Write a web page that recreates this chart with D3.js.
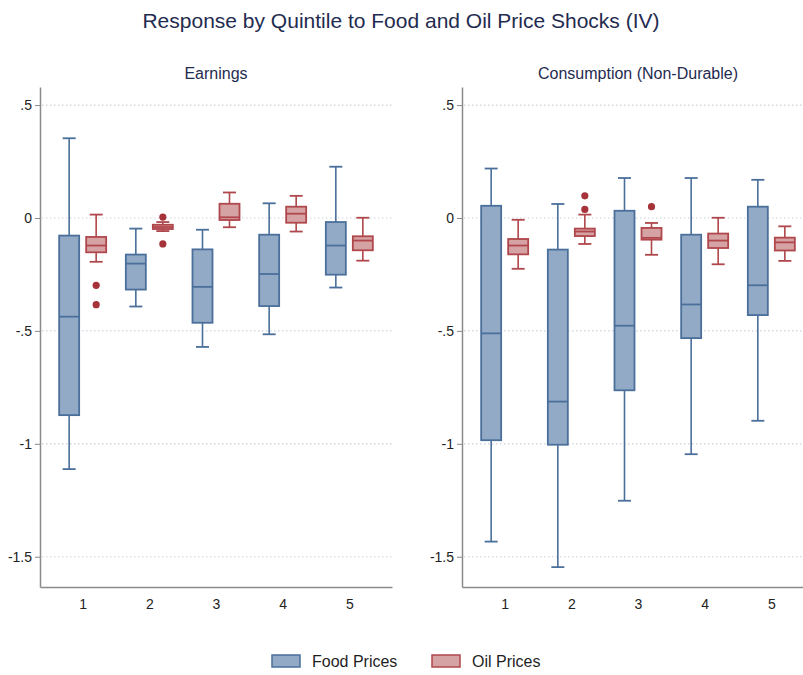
<!DOCTYPE html>
<html>
<head>
<meta charset="utf-8">
<script src="https://cdn.jsdelivr.net/npm/d3@7"></script>
<style>
  body { margin: 0; background: #fff; }
  svg { display: block; font-family: "Liberation Sans", Arial, sans-serif; }
</style>
</head>
<body>
<div id="chart"></div>
<script>
// categories and ticks
var quintiles = ["1", "2", "3", "4", "5"];
var yTicks = [0.5, 0, -0.5, -1, -1.5];
var panelTitles = ["Earnings", "Consumption (Non-Durable)"];
var seriesNames = ["Food Prices", "Oil Prices"];

// box stats per quintile: [lower whisker, q1, median, q3, upper whisker]
var earningsFood = [
  [-1.112, -0.873, -0.437, -0.078, 0.353],
  [-0.392, -0.317, -0.202, -0.162, -0.047],
  [-0.571, -0.464, -0.305, -0.139, -0.052],
  [-0.515, -0.390, -0.248, -0.074, 0.065],
  [-0.308, -0.251, -0.122, -0.018, 0.227]
];
var earningsOil = [
  [-0.194, -0.152, -0.122, -0.084, 0.015],
  [-0.058, -0.049, -0.040, -0.030, -0.018],
  [-0.041, -0.009, 0.003, 0.063, 0.113],
  [-0.060, -0.021, 0.019, 0.050, 0.098],
  [-0.189, -0.143, -0.100, -0.081, 0.001]
];
var earningsOilOutliers = [[-0.298, -0.384], [0.004, -0.115], [], [], []];

var consFood = [
  [-1.433, -0.984, -0.511, 0.054, 0.219],
  [-1.546, -1.004, -0.813, -0.140, 0.062],
  [-1.252, -0.763, -0.477, 0.032, 0.177],
  [-1.046, -0.532, -0.383, -0.074, 0.177],
  [-0.898, -0.430, -0.298, 0.050, 0.169]
];
var consOil = [
  [-0.225, -0.161, -0.122, -0.093, -0.008],
  [-0.115, -0.080, -0.060, -0.047, 0.015],
  [-0.163, -0.096, -0.088, -0.044, -0.022],
  [-0.205, -0.133, -0.100, -0.069, 0.001],
  [-0.190, -0.144, -0.108, -0.087, -0.037]
];
var consOilOutliers = [[], [0.098, 0.038], [0.050], [], []];

var colors = {
  food: {fill: "#93aac6", stroke: "#4a6f9b"},
  oil: {fill: "#d6a3a5", stroke: "#b0474c"},
  dot: "#a6323a"
};

var W = 803, H = 675;
var svg = d3.select("#chart").append("svg")
    .attr("width", W)
    .attr("height", H);

svg.append("text")
    .attr("x", 401)
    .attr("y", 28)
    .attr("text-anchor", "middle")
    .style("font-size", "21px")
    .style("fill", "#1f2c4f")
    .text("Response by Quintile to Food and Oil Price Shocks (IV)");

var y = d3.scaleLinear()
    .domain([-1.634, 0.58])
    .range([587, 87]);

var panels = [
  {title: panelTitles[0], left: 40, food: earningsFood, oil: earningsOil, outliers: earningsOilOutliers},
  {title: panelTitles[1], left: 462, food: consFood, oil: consOil, outliers: consOilOutliers}
];

// stata style labels: .5, 0, -.5, -1, -1.5 with a plain hyphen
var fmt = function (d) {
  if (d === 0) return "0";
  var s = String(Math.abs(d)).replace(/^0\./, ".");
  return (d < 0 ? "-" : "") + s;
};

var offset = 13.5, boxW = 20, capW = 13;

panels.forEach(function (p) {
  var x = d3.scalePoint()
      .domain(quintiles)
      .range([p.left, p.left + 352])
      .padding(0.64);

  var g = svg.append("g");

  // panel title
  g.append("text")
      .attr("x", p.left + 176)
      .attr("y", 79)
      .attr("text-anchor", "middle")
      .style("font-size", "16px")
      .style("fill", "#1f2c4f")
      .text(p.title);

  // dotted grid lines
  g.selectAll(".grid")
      .data(yTicks)
      .enter()
      .append("line")
      .attr("x1", p.left + 2)
      .attr("x2", p.left + 352)
      .attr("y1", function (d) { return y(d); })
      .attr("y2", function (d) { return y(d); })
      .style("stroke", "#c9d1d9")
      .style("stroke-width", 1.2)
      .style("stroke-dasharray", "1.5,2.5");

  var yAxis = d3.axisLeft(y)
      .tickValues(yTicks)
      .tickFormat(fmt)
      .tickSizeInner(5)
      .tickSizeOuter(0)
      .tickPadding(3);

  var gy = g.append("g")
      .attr("transform", "translate(" + p.left + ",0)")
      .call(yAxis);

  var xAxis = d3.axisBottom(x)
      .tickSize(0)
      .tickPadding(12);

  var gx = g.append("g")
      .attr("transform", "translate(0," + y.range()[0] + ")")
      .call(xAxis);

  [gy, gx].forEach(function (ax) {
    ax.select(".domain").style("stroke", "#8a8a8a").style("stroke-width", 1.5);
    ax.selectAll(".tick line").style("stroke", "#8a8a8a");
    ax.selectAll("text").style("font-size", "14px").style("fill", "#222")
        .style("font-family", "'Liberation Sans', Arial, sans-serif");
  });

  // boxes
  var series = [
    {data: p.food, dx: -offset, c: colors.food},
    {data: p.oil, dx: offset, c: colors.oil}
  ];

  series.forEach(function (s) {
    var b = g.selectAll(null)
        .data(s.data)
        .enter()
        .append("g")
        .attr("transform", function (d, i) {
          return "translate(" + (x(quintiles[i]) + s.dx) + ",0)";
        });

    // whiskers
    b.append("line")
        .attr("y1", function (d) { return y(d[0]); })
        .attr("y2", function (d) { return y(d[1]); })
        .style("stroke", s.c.stroke).style("stroke-width", 1.6);
    b.append("line")
        .attr("y1", function (d) { return y(d[3]); })
        .attr("y2", function (d) { return y(d[4]); })
        .style("stroke", s.c.stroke).style("stroke-width", 1.6);

    // caps
    [0, 4].forEach(function (k) {
      b.append("line")
          .attr("x1", -capW / 2)
          .attr("x2", capW / 2)
          .attr("y1", function (d) { return y(d[k]); })
          .attr("y2", function (d) { return y(d[k]); })
          .style("stroke", s.c.stroke).style("stroke-width", 1.8);
    });

    // box
    b.append("rect")
        .attr("x", -boxW / 2)
        .attr("width", boxW)
        .attr("y", function (d) { return y(d[3]); })
        .attr("height", function (d) { return y(d[1]) - y(d[3]); })
        .style("fill", s.c.fill)
        .style("stroke", s.c.stroke)
        .style("stroke-width", 1.8);

    // median
    b.append("line")
        .attr("x1", -boxW / 2)
        .attr("x2", boxW / 2)
        .attr("y1", function (d) { return y(d[2]); })
        .attr("y2", function (d) { return y(d[2]); })
        .style("stroke", s.c.stroke).style("stroke-width", 1.8);
  });

  // outliers of oil series
  p.outliers.forEach(function (pts, i) {
    g.selectAll(null)
        .data(pts)
        .enter()
        .append("circle")
        .attr("cx", x(quintiles[i]) + offset)
        .attr("cy", function (d) { return y(d); })
        .attr("r", 3.6)
        .style("fill", colors.dot);
  });
});

// legend
var legend = svg.append("g");
var legendX = [272, 432];
seriesNames.forEach(function (name, i) {
  var c = i === 0 ? colors.food : colors.oil;
  legend.append("rect")
      .attr("x", legendX[i])
      .attr("y", 655)
      .attr("width", 28)
      .attr("height", 12)
      .style("fill", c.fill)
      .style("stroke", c.stroke)
      .style("stroke-width", 1.5);
  legend.append("text")
      .attr("x", legendX[i] + 40)
      .attr("y", 667)
      .style("font-size", "16px")
      .style("fill", "#1f1f1f")
      .text(name);
});
</script>
</body>
</html>
